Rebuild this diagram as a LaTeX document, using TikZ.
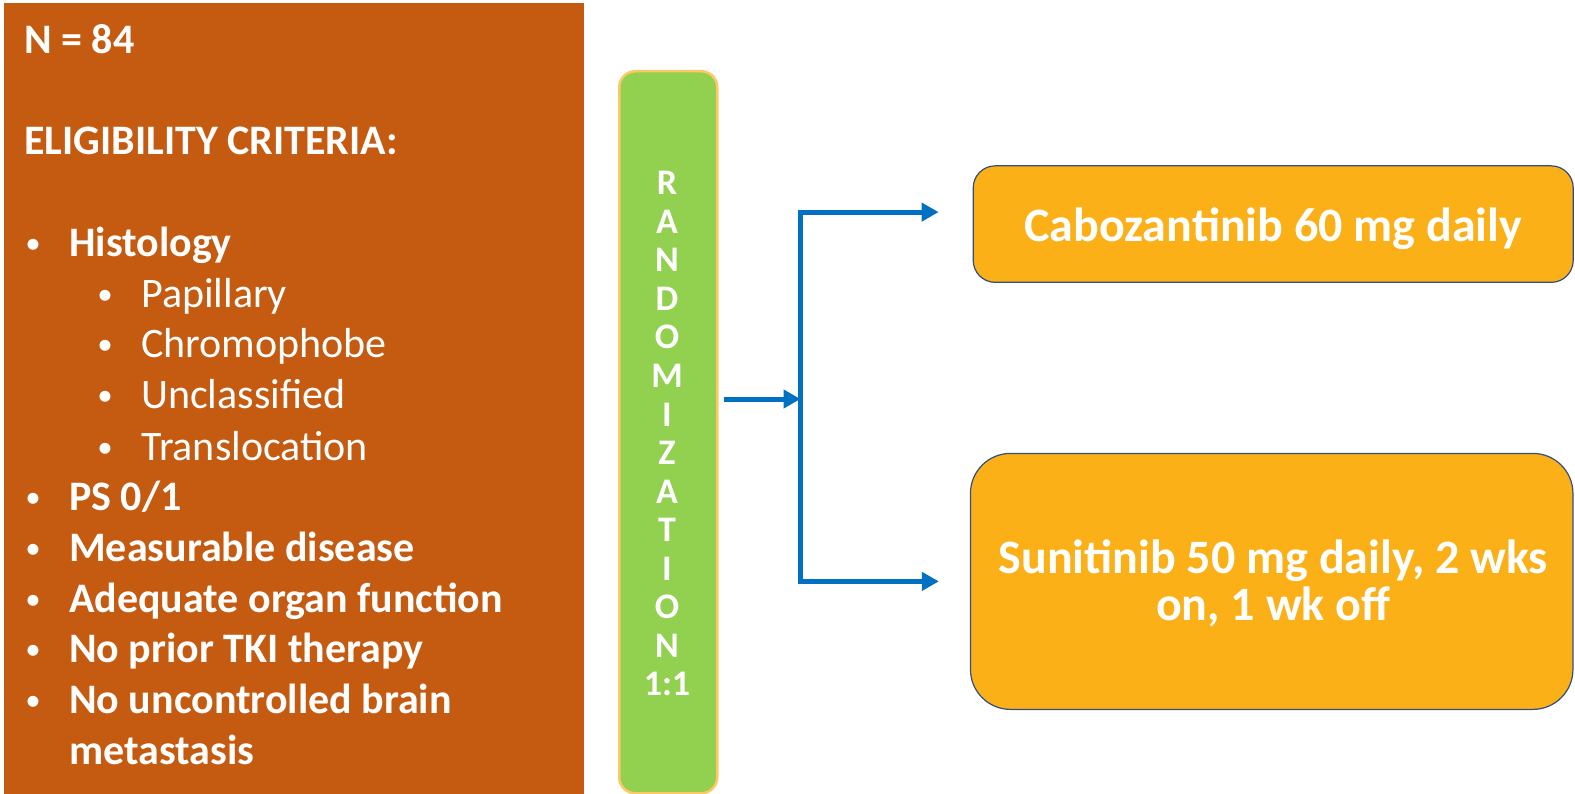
\documentclass[tikz,border=0pt]{standalone}
\usepackage{fontspec}
\setmainfont{Carlito}
\usetikzlibrary{arrows.meta}
\definecolor{critbrown}{HTML}{C55A11}
\definecolor{bargreen}{HTML}{92D050}
\definecolor{barborder}{HTML}{FFC866}
\definecolor{armorange}{HTML}{FCB017}
\definecolor{armborder}{HTML}{2F4F80}
\definecolor{arrblue}{HTML}{0070C0}
\begin{document}
\begin{tikzpicture}[x=1pt,y=-1pt,
  hd/.style={anchor=base west, inner sep=0pt, text=white, font=\fontsize{42}{50}\selectfont\bfseries},
  subt/.style={anchor=base west, inner sep=0pt, text=white, font=\fontsize{42}{50}\selectfont},
  bul/.style={anchor=base, inner sep=0pt, text=white, font=\fontsize{31}{50}\selectfont},
  randl/.style={anchor=base, inner sep=0pt, text=white, font=\fontsize{36}{38}\selectfont\bfseries},
  armbox/.style={draw=armborder, line width=1.2pt, fill=armorange, inner sep=0pt},
  armtext/.style={anchor=base, inner sep=0pt, text=white, font=\fontsize{48}{48}\selectfont\bfseries},
  arr/.style={draw=arrblue, line width=5pt, -{Triangle[length=17pt,width=18pt]}}
]
\useasboundingbox (0,0) rectangle (1575,794);
% eligibility box
\node[fill=critbrown, inner sep=0pt, minimum width=580pt, minimum height=791pt, anchor=north west] (elig) at (4,3) {};
\node[hd] (n84) at (24,54) {N = 84};
\node[hd] (eligt) at (24,155) {ELIGIBILITY CRITERIA:};
\node[bul] (b1) at (33,254) {•};  \node[hd] (t1) at (69,257) {Histology};
\node[bul] (s1) at (105,305) {•}; \node[subt] (u1) at (141,308) {Papillary};
\node[bul] (s2) at (105,355) {•}; \node[subt] (u2) at (141,358) {Chromophobe};
\node[bul] (s3) at (105,406) {•}; \node[subt] (u3) at (141,409) {Unclassified};
\node[bul] (s4) at (105,457) {•}; \node[subt] (u4) at (141,460) {Translocation};
\node[bul] (b2) at (33,507) {•};  \node[hd] (t2) at (69,510) {PS 0/1};
\node[bul] (b3) at (33,558) {•};  \node[hd] (t3) at (69,561) {Measurable disease};
\node[bul] (b4) at (33,609) {•};  \node[hd] (t4) at (69,612) {Adequate organ function};
\node[bul] (b5) at (33,659) {•};  \node[hd] (t5) at (69,662) {No prior TKI therapy};
\node[bul] (b6) at (33,710) {•};  \node[hd] (t6) at (69,713) {No uncontrolled brain};
\node[hd] (t7) at (69,764) {metastasis};
% randomization bar
\node[draw=barborder, line width=2.5pt, fill=bargreen, rounded corners=16pt, inner sep=0pt,
      minimum width=98pt, minimum height=722pt, anchor=north west] (rand) at (618,70) {};
\foreach \l [count=\i from 0] in {R,A,N,D,O,M,I,Z,A,T,I,O,N,1:1}
  \node[randl] (rl\i) at (667,{195+\i*38.5}) {\l};
% arms
\node[armbox, rounded corners=22pt, minimum width=600pt, minimum height=116.5pt] (cabo) at (1273.2,224.1) {};
\node[armtext] (cabot) at (1273.2,242) {Cabozantinib 60 mg daily};
\node[armbox, rounded corners=40pt, minimum width=602.5pt, minimum height=256pt] (suni) at (1271.7,581.4) {};
\node[armtext] (sunit1) at (1273.2,573) {Sunitinib 50 mg daily, 2 wks};
\node[armtext] (sunit2) at (1273.2,620) {on, 1 wk off};
% connectors
\coordinate (j) at (800.5,399);
\coordinate (ct) at ([xshift=-34pt,yshift=12pt]cabo.west);
\coordinate (cb) at ([xshift=-31pt,yshift=0pt]suni.west);
\draw[arr, shorten <=5pt] (rand.east |- j) -- (j);
\draw[arr] (j) |- (ct);
\draw[arr] (j) |- (cb);
\end{tikzpicture}
\end{document}
